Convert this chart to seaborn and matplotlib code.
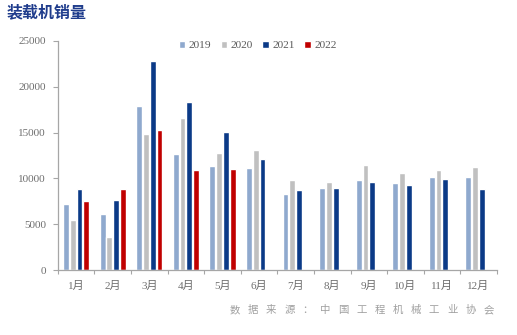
import numpy as np
import pandas as pd
import matplotlib
matplotlib.use("Agg")
import matplotlib.pyplot as plt
import seaborn as sns

# Monthly wheel-loader sales (units)
months = ["1月", "2月", "3月", "4月", "5月", "6月", "7月", "8月", "9月", "10月", "11月", "12月"]
years = ["2019", "2020", "2021", "2022"]
sales_2019 = [7200, 6150, 17900, 12650, 11350, 11100, 8250, 8980, 9800, 9500, 10100, 10150]
sales_2020 = [5450, 3560, 14800, 16600, 12750, 13050, 9800, 9600, 11420, 10550, 10880, 11200]
sales_2021 = [8850, 7630, 22750, 18320, 15100, 12100, 8700, 9000, 9560, 9230, 9920, 8800]
sales_2022 = [7580, 8850, 15280, 10920, 11000]
colors = ["#8FA9CE", "#C0C0C0", "#0B3A87", "#C00000"]
source_note = "数据来源：中国工程机械工业协会"

rows = []
for yr, vals in zip(years, [sales_2019, sales_2020, sales_2021, sales_2022]):
    for m, v in zip(months, vals):
        rows.append({"month": m, "year": yr, "sales": v})
df = pd.DataFrame(rows)

sns.set_theme(style="white")
plt.rcParams["font.family"] = ["Liberation Serif", "Noto Sans CJK SC", "DejaVu Sans"]

W, H = 517, 335
fig = plt.figure(figsize=(W / 100, H / 100), dpi=100)
ax = fig.add_axes([0.112, 0.194, 0.849, 0.684])

sns.barplot(data=df, x="month", y="sales", hue="year", order=months,
            hue_order=years, palette=colors, width=0.74, gap=0.14,
            saturation=1, errorbar=None, ax=ax)

ax.set_xlim(-0.5, 11.5)
ax.set_ylim(0, 25000)
ax.set_yticks(np.arange(0, 25001, 5000))
ax.set_xlabel("")
ax.set_ylabel("")

for side in ("top", "right"):
    ax.spines[side].set_visible(False)
for side in ("left", "bottom"):
    ax.spines[side].set_color("#A6A6A6")
    ax.spines[side].set_linewidth(0.9)

ax.tick_params(axis="y", which="major", length=3.5, width=0.8, color="#A6A6A6",
               direction="out", left=True, labelsize=8, labelcolor="#6E6E6E", pad=5)
ax.tick_params(axis="x", which="major", length=0, labelsize=8,
               labelcolor="#6E6E6E", pad=8)
ax.set_xticks(np.arange(-0.5, 12, 1), minor=True)
ax.tick_params(axis="x", which="minor", length=3, width=0.8, color="#A6A6A6",
               direction="out", bottom=True)
for lbl in ax.get_xticklabels():
    lbl.set_family(["Liberation Serif", "Noto Sans CJK SC"])

leg = ax.legend(loc="upper center", bbox_to_anchor=(0.455, 1.02), ncol=4,
                frameon=False, fontsize=8.2, handlelength=0.6, handleheight=0.6,
                handletextpad=0.3, columnspacing=0.8, borderaxespad=0)
for t in leg.get_texts():
    t.set_color("#595959")

fig.text(7 / W, 1 - 12 / H, "装载机销量", family=["Noto Sans CJK SC"], fontweight="bold",
         fontsize=11.5, color="#1F3C8C", va="center", ha="left")

# source note, characters spread evenly along the bottom right
x0, step = 235, 18.1
for i, ch in enumerate(source_note):
    fig.text((x0 + i * step) / W, 1 - 310 / H, ch, family=["Noto Sans CJK SC"],
             fontsize=7.5, color="#A0A0A0", ha="center", va="center")

fig.savefig("out.png", dpi=100)
